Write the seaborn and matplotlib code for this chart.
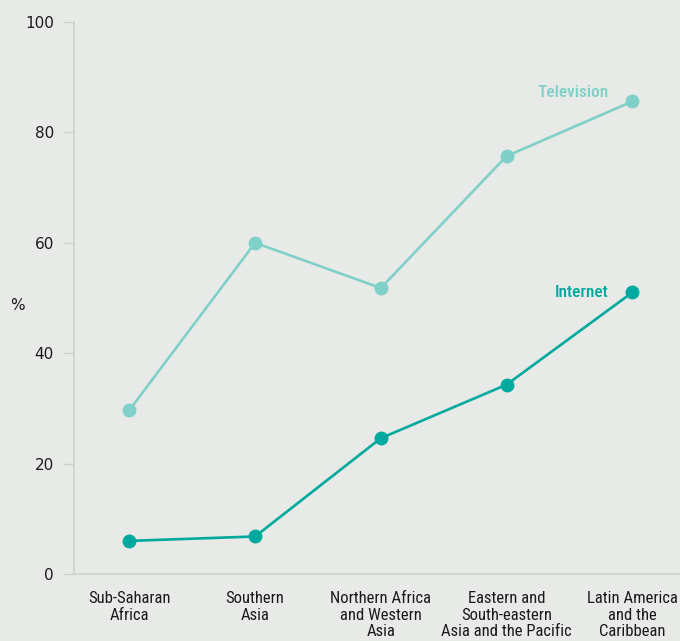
import matplotlib
matplotlib.use("Agg")
import matplotlib.pyplot as plt
import seaborn as sns
import pandas as pd
from matplotlib import font_manager

regions = ["Sub-Saharan\nAfrica", "Southern\nAsia", "Northern Africa\nand Western\nAsia",
           "Eastern and\nSouth-eastern\nAsia and the Pacific", "Latin America\nand the\nCaribbean"]
television = [29.7, 60.0, 51.8, 75.7, 85.6]
internet = [6.0, 6.8, 24.6, 34.3, 51.0]
yticks = [0, 20, 40, 60, 80, 100]

sns.set_theme(style="white")
names = {f.name for f in font_manager.fontManager.ttflist}
narrow = "DejaVu Sans"
for cand in ["Roboto Condensed", "Fira Sans Condensed", "PT Sans Narrow",
             "Open Sans Condensed", "Liberation Sans Narrow", "Encode Sans Condensed"]:
    if cand in names:
        narrow = cand
        break
plt.rcParams['font.family'] = ['DejaVu Sans']

bg = "#e8eae7"
tv_col = "#7fd0c8"
net_col = "#00a99d"

df = pd.DataFrame({
    "pos": list(range(len(regions))) * 2,
    "value": television + internet,
    "series": ["Television"] * len(regions) + ["Internet"] * len(regions),
})

fig = plt.figure(figsize=(6.8, 6.41), dpi=100, facecolor=bg)
ax = fig.add_axes([0.109, 0.1045, 0.891, 0.8612])
ax.set_facecolor(bg)

sns.lineplot(data=df, x="pos", y="value", hue="series",
             palette={"Television": tv_col, "Internet": net_col},
             marker="o", markersize=10, markeredgewidth=0, linewidth=1.9,
             legend=False, ax=ax)

ax.set_xlim(-0.44, 4.38)
ax.set_ylim(0, 100)
ax.set_yticks(yticks)
ax.set_yticklabels([str(t) for t in yticks], fontsize=11, color="#1a1a1a")
ax.set_xticks(range(len(regions)))
ax.set_xticklabels(regions, fontsize=12, color="#1a1a1a", family=narrow, linespacing=1.13)
ax.tick_params(axis="y", length=8, width=1, color="#cfd1ce", pad=6.5, left=True)
ax.tick_params(axis="x", length=0, pad=12.5)
ax.set_xlabel("")
ax.set_ylabel("%", rotation=0, fontsize=11, color="#1a1a1a", ha="center", va="center")
ax.yaxis.set_label_coords(-0.094, 0.487)

for s in ["top", "right"]:
    ax.spines[s].set_visible(False)
for s in ["left", "bottom"]:
    ax.spines[s].set_color("#cfd1ce")
    ax.spines[s].set_linewidth(1.2)

ax.text(3.81, 87.3, "Television", color=tv_col, fontsize=12.5,
        family=narrow, ha="right", va="center", fontweight="medium")
ax.text(3.81, 51.0, "Internet", color=net_col, fontsize=12.5,
        family=narrow, ha="right", va="center", fontweight="medium")

fig.savefig("out.png", dpi=100, facecolor=bg)
